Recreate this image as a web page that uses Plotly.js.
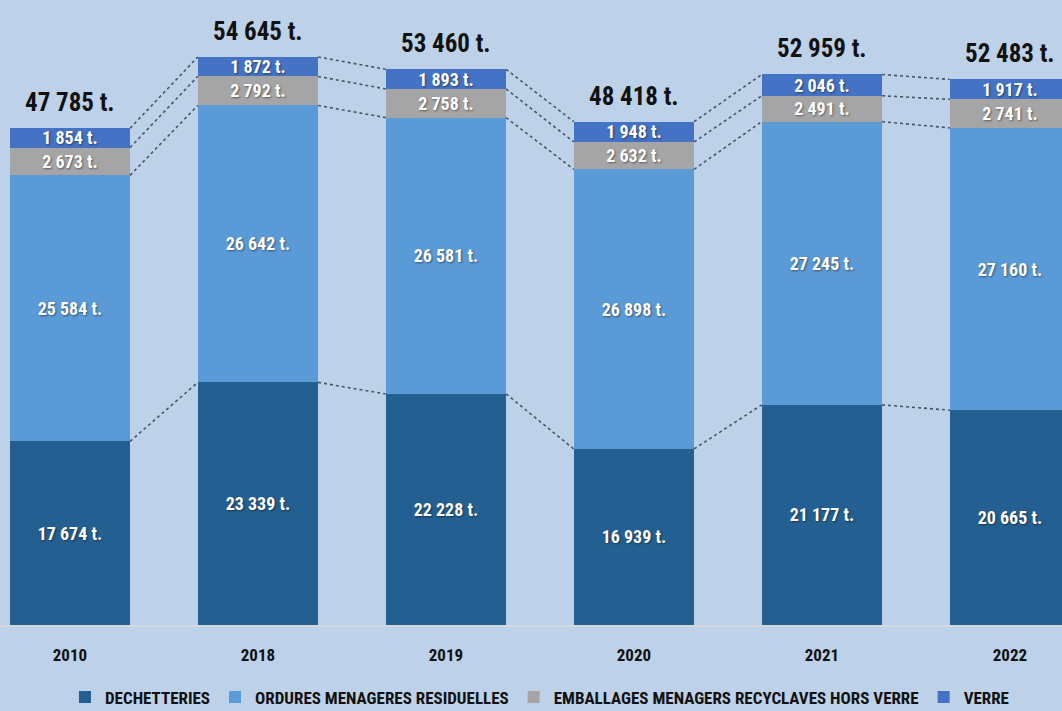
<!DOCTYPE html>
<html><head><meta charset="utf-8">
<script src="https://cdn.plot.ly/plotly-3.0.1.min.js"></script>
<style>html,body{margin:0;padding:0;background:#bdd1e8;}#c{width:1062px;height:711px;}</style>
</head><body><div id="c"></div>
<script>
const years = ['2010','2018','2019','2020','2021','2022'];
const dechetteries = [17674, 23339, 22228, 16939, 21177, 20665];
const ordures = [25584, 26642, 26581, 26898, 27245, 27160];
const emballages = [2673, 2792, 2758, 2632, 2491, 2741];
const verre = [1854, 1872, 1893, 1948, 2046, 1917];
const totals = [47785, 54645, 53460, 48418, 52959, 52483];
const seriesNames = ['DECHETTERIES','ORDURES MENAGERES RESIDUELLES','EMBALLAGES MENAGERS RECYCLAVES HORS VERRE','VERRE'];

const FONT = '"Roboto Condensed", Roboto, sans-serif';
const colors = ['#245f91','#5a9ad6','#a5a5a5','#4472c4'];
const series = [dechetteries, ordures, emballages, verre];
const xs = years.map((_, i) => i);
const halfW = 0.32;

const traces = series.map((vals, k) => ({
  type: 'bar', x: xs, y: vals, name: seriesNames[k],
  marker: {color: colors[k]}, width: halfW * 2,
  texttemplate: '%{y:,.0f} t.', textposition: 'inside', insidetextanchor: 'middle',
  textangle: 0,
  textfont: {family: FONT, size: 18, color: '#ffffff', weight: 'bold', shadow: '1px 1px 2px rgba(0,0,0,0.45)'},
  hoverinfo: 'skip'
}));

// connectors between cumulative segment tops
const cum = years.map((_, i) => {
  let s = 0; return series.map(v => (s += v[i]));
});
const connectors = [];
for (let i = 0; i < years.length - 1; i++) {
  for (let k = 0; k < series.length; k++) {
    connectors.push({
      type: 'scatter', mode: 'lines', x: [i + halfW, i + 1 - halfW],
      y: [cum[i][k], cum[i + 1][k]], showlegend: false, hoverinfo: 'skip',
      line: {color: '#46566b', width: 1.6, dash: 'dot'}
    });
  }
}

const annotations = totals.map((t, i) => ({
  x: i, y: cum[i][3], yanchor: 'bottom', yshift: 9, showarrow: false,
  text: t.toLocaleString('fr-FR').replace(/[\u202f\u00a0]/g, ' ') + ' t.',
  font: {family: FONT, size: 25, color: '#111111', weight: 'bold'}
}));

const layout = {
  width: 1062, height: 711,
  paper_bgcolor: '#bdd1e8', plot_bgcolor: '#bdd1e8',
  margin: {l: 0, r: 0, t: 0, b: 86},
  barmode: 'stack', separators: ', ',
  uniformtext: {mode: 'show', minsize: 18},
  xaxis: {range: [-0.372, 5.277], tickvals: xs, ticktext: years, showgrid: false, zeroline: false,
    showline: true, linecolor: '#d3d7dc', linewidth: 1.5, ticks: '', ticklen: 0, ticklabelstandoff: 14,
    automargin: false,
    tickfont: {family: FONT, size: 17, color: '#111111', weight: 'bold'}, fixedrange: true},
  yaxis: {range: [0, 60125], visible: false, fixedrange: true},
  legend: {orientation: 'h', x: 0.508, xanchor: 'center', yref: 'container', y: 0.019, yanchor: 'middle',
    font: {family: FONT, size: 17, color: '#111111', weight: 'bold'}, traceorder: 'normal', bgcolor: 'rgba(0,0,0,0)'},
  annotations: annotations,
  showlegend: true
};

Plotly.newPlot('c', traces.concat(connectors), layout, {displayModeBar: false, staticPlot: true});
</script></body></html>
